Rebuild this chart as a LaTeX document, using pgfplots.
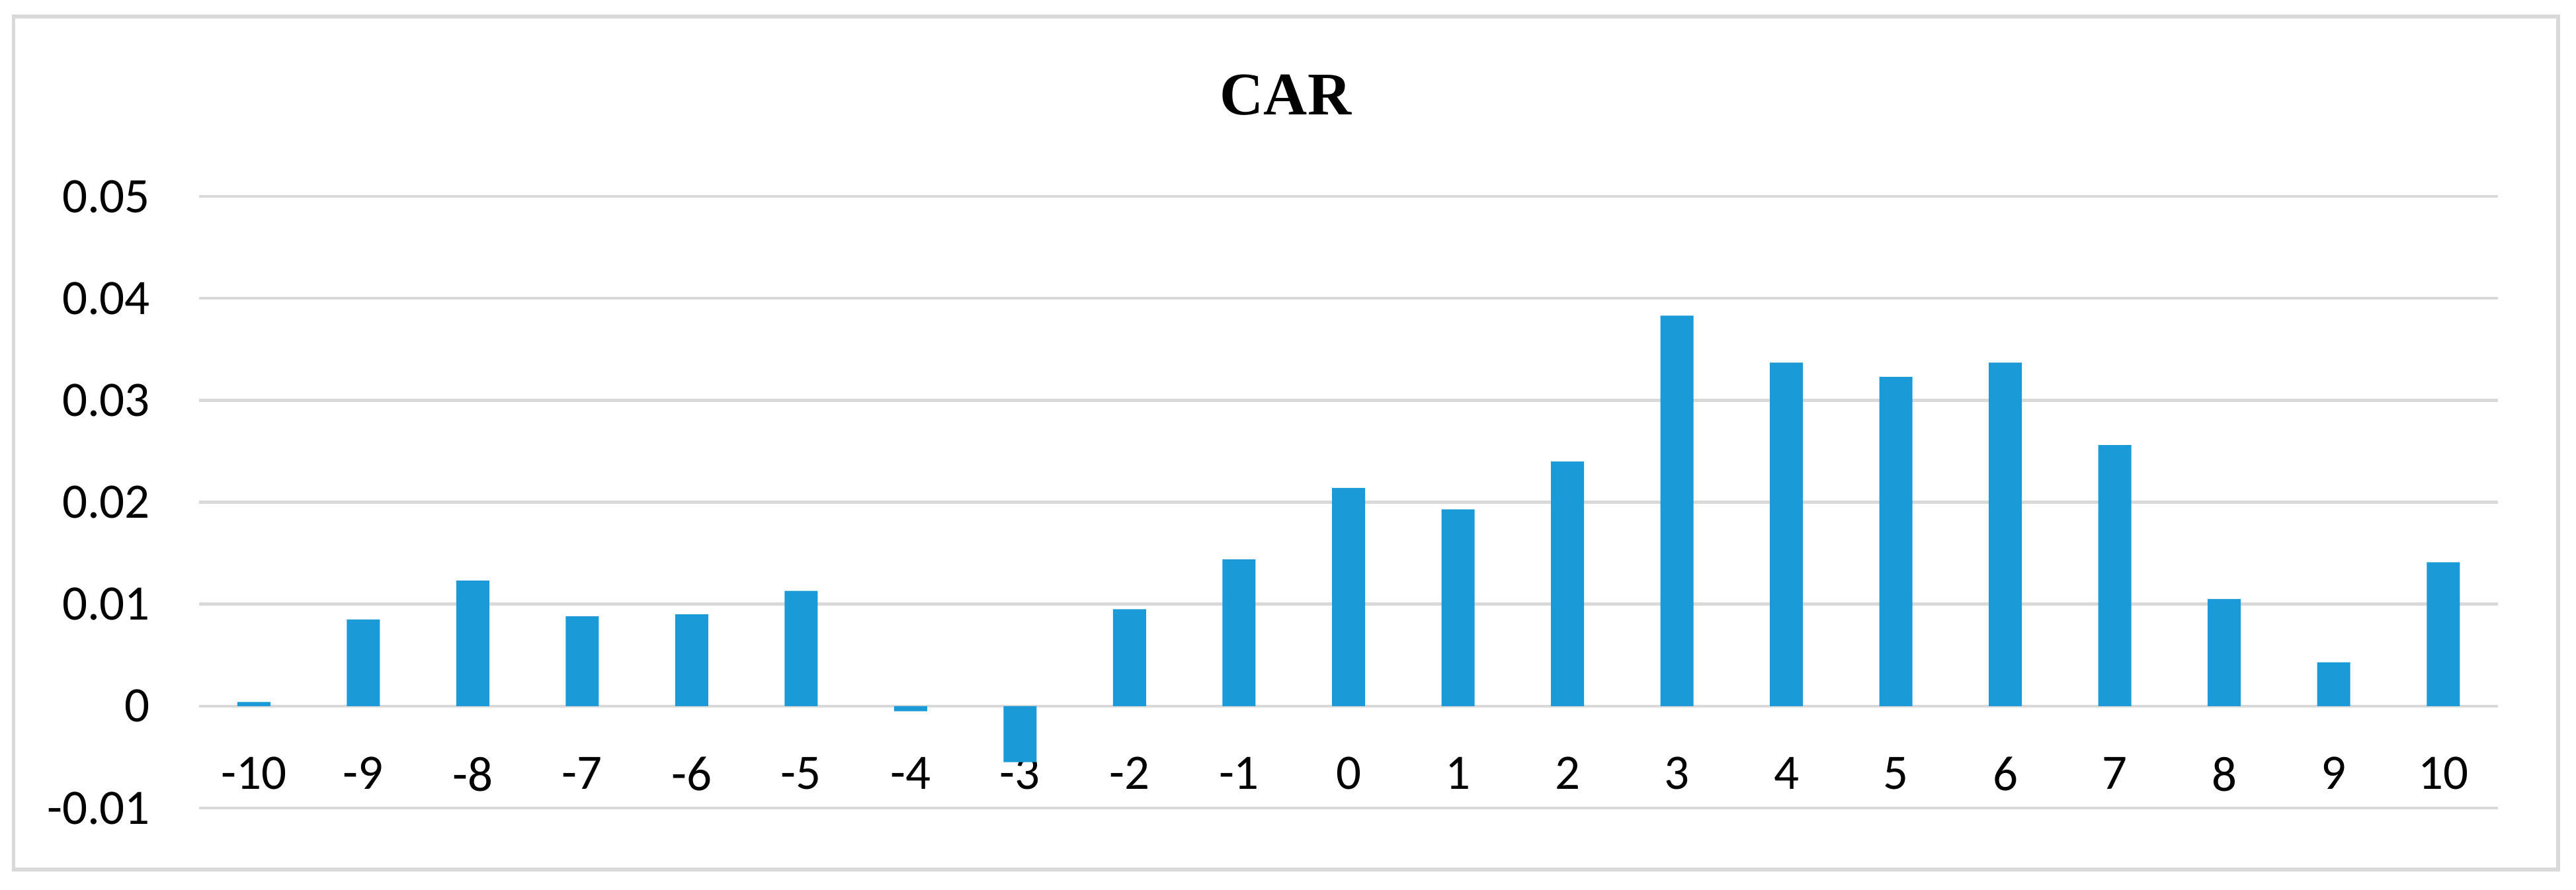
\documentclass[border=0pt]{standalone}
\usepackage{pgfplots}
\pgfplotsset{compat=1.18}
\usepackage{fontspec}
\setmainfont{Carlito}
\newfontfamily\titlefont{Liberation Serif}
\definecolor{barblue}{HTML}{1A9BD7}
\definecolor{gridgray}{HTML}{D9D9D9}

\begin{document}
\begin{tikzpicture}
\useasboundingbox (-60.2pt,-24.6pt) rectangle (718.8pt,244.4pt);
\draw[gridgray, line width=1.1pt] (-56.1pt,-18.6pt) rectangle (713.4pt,239.4pt);
\begin{axis}[
  at={(0,0)}, anchor=south west,
  scale only axis, width=695.2pt, height=185pt,
  xmin=-10.5, xmax=10.5, ymin=-0.01, ymax=0.05,
  axis line style={draw=none},
  major tick length=0pt, tick style={draw=none},
  scaled y ticks=false,
  xtick={-10,...,10},
  xticklabels={-10,-9,-8,-7,-6,-5,-4,-3,-2,-1,0,1,2,3,4,5,6,7,8,9,10},
  ytick={-0.01,0,0.01,0.02,0.03,0.04,0.05},
  yticklabels={-0.01,0,0.01,0.02,0.03,0.04,0.05},
  ymajorgrids, grid style={gridgray, line width=0.9pt},
  ticklabel style={font=\fontsize{15}{18}\selectfont, text=black},
  xticklabel style={anchor=north, inner sep=0pt, yshift=15.6pt},
  yticklabel style={anchor=east, inner sep=0pt, xshift=-14.6pt},
  /pgf/number format/assume math mode=true,
]
\addplot[ybar, bar width=10pt, fill=barblue, draw=none] coordinates {
  (-10,0.0004) (-9,0.0085) (-8,0.0123) (-7,0.0088) (-6,0.0090)
  (-5,0.0113) (-4,-0.0005) (-3,-0.0055) (-2,0.0095) (-1,0.0144)
  (0,0.0214) (1,0.0193) (2,0.0240) (3,0.0383) (4,0.0337)
  (5,0.0323) (6,0.0337) (7,0.0256) (8,0.0105) (9,0.0043) (10,0.0141)
};
\end{axis}
\node[anchor=base, font=\titlefont\bfseries\fontsize{18.3}{22}\selectfont, inner sep=0pt] at (328.6pt,209.8pt) {CAR};
\end{tikzpicture}
\end{document}
